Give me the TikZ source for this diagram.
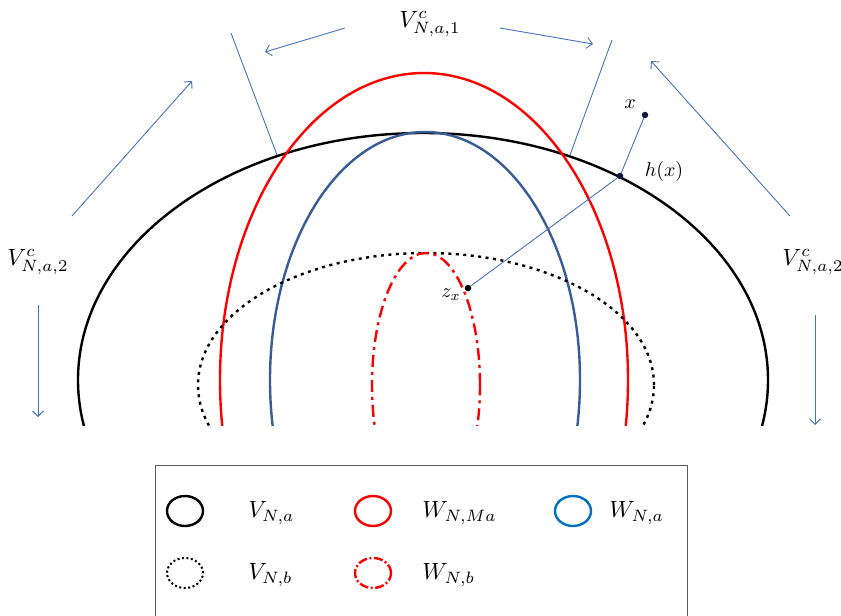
\documentclass[tikz,border=0pt]{standalone}
\DeclareMathSizes{10}{10}{7.5}{6}
\usetikzlibrary{positioning,arrows.meta,calc}
\definecolor{lineblue}{RGB}{68,114,196}
\definecolor{regionblue}{RGB}{56,92,150}
\definecolor{legendblue}{RGB}{0,112,192}
\definecolor{navy}{RGB}{15,25,60}
\definecolor{boxgray}{RGB}{90,90,90}
\tikzset{
  region/.style={line width=2.4pt},
  dotreg/.style={region, dash pattern=on 3pt off 4.5pt},
  dashdotreg/.style={region, dash pattern=on 12pt off 5pt on 3pt off 5pt},
  guide/.style={draw=lineblue, line width=0.9pt},
  flow/.style={guide, -{Straight Barb[length=5.5pt,width=11pt]}},
  dot/.style={circle, fill=navy, inner sep=0pt, minimum size=6.5pt},
  biglabel/.style={scale=2.35},
  smalllabel/.style={scale=2.0}
}

\begin{document}
\begin{tikzpicture}[x=1pt, y=-1pt]
    \useasboundingbox (0,0) rectangle (841,616);

    % regions, cut off at the bottom line
    \begin{scope}
      \clip (0,0) rectangle (841,425);
      \draw[region, black]      (423,380) ellipse [x radius=345pt, y radius=247pt];
      \draw[region, red]        (424,380) ellipse [x radius=204pt, y radius=307pt];
      \draw[region, regionblue] (425,380) ellipse [x radius=155pt, y radius=248pt];
      \draw[dotreg, black]      (426,385) ellipse [x radius=228pt, y radius=132pt];
      \draw[dashdotreg, red]    (426,385) ellipse [x radius=54pt, y radius=132pt];
    \end{scope}

    % boundary rays
    \coordinate (r1a) at (231,33);
    \coordinate (r1b) at (277,155);
    \coordinate (r2a) at (612,40);
    \coordinate (r2b) at (570,155);
    \draw[guide] (r1a) -- (r1b);
    \draw[guide] (r2a) -- (r2b);

    % points x, h(x), z_x
    \node[dot] (x) at (645,115) {};
    \node[dot] (h) at (620,176) {};
    \node[dot, fill=black] (z) at (468,288) {};
    \node[smalllabel] (xl) at (630,104) {$x$};
    \node[smalllabel] (hl) at (664,171) {$h(x)$};
    \node[smalllabel] (zl) at (451,295) {$z_x$};
    \draw[guide] (x) -- (h);
    \draw[guide] (h) -- (z);

    % complement labels and arrows
    \node[biglabel] (top) at (430,24) {$V_{N,a,1}^{c}$};
    \node[biglabel] (lft) at (38,262) {$V_{N,a,2}^{c}$};
    \node[biglabel] (rgt) at (813,262) {$V_{N,a,2}^{c}$};

    \coordinate (t1) at (345,28);
    \coordinate (t2) at (265,52);
    \coordinate (t3) at (500,28);
    \coordinate (t4) at (593,44);
    \coordinate (l1) at (72,216);
    \coordinate (l2) at (192,81);
    \coordinate (q1) at (790,216);
    \coordinate (q2) at (651,61);
    \coordinate (d1) at (38,305);
    \coordinate (d2) at (38,417);
    \coordinate (e1) at (815,315);
    \coordinate (e2) at (815,425);
    \draw[flow] (t1) -- (t2);
    \draw[flow] (t3) -- (t4);
    \draw[flow] (l1) -- (l2);
    \draw[flow] (q1) -- (q2);
    \draw[flow] (d1) -- (d2);
    \draw[flow] (e1) -- (e2);

    % legend
    \draw[boxgray, line width=1pt] (155,617) -- (155,465) -- (687,465) -- (687,617);
    \draw[region, black]      (185,511) ellipse [x radius=18pt, y radius=15pt];
    \draw[region, red]        (373,511) ellipse [x radius=18pt, y radius=15pt];
    \draw[region, legendblue] (573,511) ellipse [x radius=18pt, y radius=15pt];
    \draw[dotreg, black, line width=2pt, dash pattern=on 2pt off 2.5pt] (185,573) ellipse [x radius=18pt, y radius=15pt];
    \draw[dashdotreg, red, dash pattern=on 9pt off 2.5pt on 2pt off 2.5pt] (373,573) ellipse [x radius=18pt, y radius=15pt];
    \node[biglabel, anchor=west] (lva) at (240,513) {$V_{N,a}$};
    \node[biglabel, anchor=west] (lwm) at (414,513) {$W_{N,Ma}$};
    \node[biglabel, anchor=west] (lwa) at (601,513) {$W_{N,a}$};
    \node[biglabel, anchor=west] (lvb) at (240,575) {$V_{N,b}$};
    \node[biglabel, anchor=west] (lwb) at (414,575) {$W_{N,b}$};
\end{tikzpicture}
\end{document}
